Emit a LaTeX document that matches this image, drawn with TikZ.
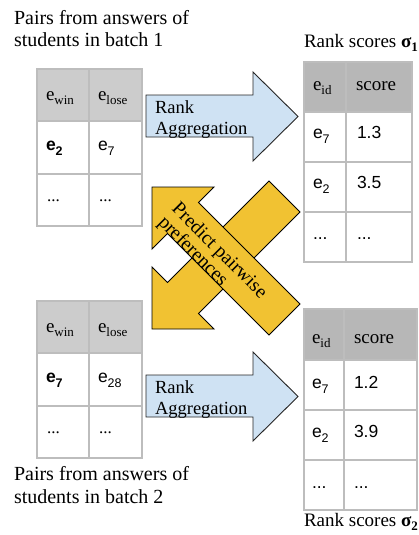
\documentclass[tikz,border=0pt]{standalone}
\usepackage{fontspec}
\setmainfont{Liberation Serif}
\setsansfont{Liberation Sans}
\definecolor{hdrL}{HTML}{CCCCCC}
\definecolor{hdrR}{HTML}{B7B7B7}
\definecolor{gridc}{HTML}{BDBDBD}
\definecolor{blueF}{HTML}{CFE2F3}
\definecolor{yellowF}{HTML}{F1C232}
\newcommand\mysub[1]{\raisebox{-4pt}{\fontsize{13}{13}\selectfont #1}}
\newcommand\sfsub[1]{\raisebox{-5pt}{\fontsize{12.5}{13}\selectfont #1}}
\tikzset{
  lbl/.style={anchor=base west, inner sep=0pt, outer sep=0pt},
  titletxt/.style={lbl, font=\fontsize{20}{23}\selectfont},
  ranktxt/.style={lbl, font=\fontsize{19}{22}\selectfont},
  hdrtxt/.style={lbl, font=\fontsize{19}{22}\selectfont},
  celltxt/.style={lbl, font=\sffamily\fontsize{17.5}{20}\selectfont},
  dotstxt/.style={lbl, font=\fontsize{17}{20}\selectfont},
  arrtxt/.style={lbl, font=\fontsize{18.5}{21}\selectfont},
  predtxt/.style={lbl, font=\fontsize{19.5}{19.1}\selectfont, rotate=-45, align=left},
  gridline/.style={draw=gridc, line width=1.3pt},
  bluearrow/.style={fill=blueF, draw=black!85, line width=0.9pt, line join=miter},
  yellowarrow/.style={fill=yellowF, draw=black, line width=0.9pt, line join=miter}
}
\begin{document}
\begin{tikzpicture}[x=1pt,y=-1pt]
\useasboundingbox (0,0) rectangle (418,535);

% ---------- titles ----------
\node[titletxt] (t1a) at (14,25) {Pairs from answers of};
\node[titletxt] (t1b) at (14,47) {students in batch 1};
\node[titletxt] (t2a) at (14,480) {Pairs from answers of};
\node[titletxt] (t2b) at (14,503) {students in batch 2};
\node[ranktxt] (r1) at (304,48) {Rank scores \textbf{σ}\raisebox{-4pt}{\fontsize{13}{13}\selectfont\bfseries 1}};
\node[ranktxt] (r2) at (304,526) {Rank scores \textbf{σ}\raisebox{-4pt}{\fontsize{13}{13}\selectfont\bfseries 2}};

% ---------- table 1 ----------
\fill[hdrL] (37,69) rectangle (142,121);
\draw[gridline] (37,69) rectangle (142,226);
\draw[gridline] (89,69) -- (89,226);
\draw[gridline] (37,121) -- (142,121);
\draw[gridline] (37,174) -- (142,174);
\node[hdrtxt] (a11) at (46,100) {e\mysub{win}};
\node[hdrtxt] (a12) at (98,100) {e\mysub{lose}};
\node[celltxt] (a21) at (46,150) {\bfseries e\sfsub{\bfseries 2}};
\node[celltxt] (a22) at (98,150) {e\sfsub{7}};
\node[dotstxt] (a31) at (47,201) {...};
\node[dotstxt] (a32) at (99,201) {...};

% ---------- table 2 ----------
\fill[hdrL] (37,301) rectangle (142,353);
\draw[gridline] (37,301) rectangle (142,458);
\draw[gridline] (89,301) -- (89,458);
\draw[gridline] (37,353) -- (142,353);
\draw[gridline] (37,406) -- (142,406);
\node[hdrtxt] (b11) at (46,332) {e\mysub{win}};
\node[hdrtxt] (b12) at (98,332) {e\mysub{lose}};
\node[celltxt] (b21) at (46,382) {\bfseries e\sfsub{\bfseries 7}};
\node[celltxt] (b22) at (98,382) {e\sfsub{28}};
\node[dotstxt] (b31) at (47,433) {...};
\node[dotstxt] (b32) at (99,433) {...};

% ---------- table 3 ----------
\fill[hdrR] (304,62) rectangle (412,112);
\draw[gridline] (304,62) rectangle (412,262);
\draw[gridline] (346,62) -- (346,262);
\draw[gridline] (304,112) -- (412,112);
\draw[gridline] (304,162) -- (412,162);
\draw[gridline] (304,212) -- (412,212);
\node[hdrtxt] (c11) at (313,90) {e\mysub{id}};
\node[hdrtxt] (c12) at (356,90) {score};
\node[celltxt] (c21) at (313,138) {e\sfsub{7}};
\node[celltxt] (c22) at (357,138) {1.3};
\node[celltxt] (c31) at (313,188) {e\sfsub{2}};
\node[celltxt] (c32) at (357,188) {3.5};
\node[celltxt] (c41) at (313,239) {...};
\node[celltxt] (c42) at (357,239) {...};

% ---------- table 4 ----------
\fill[hdrR] (304,309) rectangle (417,360);
\draw[gridline] (304,309) rectangle (417,510);
\draw[gridline] (344,309) -- (344,510);
\draw[gridline] (304,360) -- (417,360);
\draw[gridline] (304,410) -- (417,410);
\draw[gridline] (304,460) -- (417,460);
\node[hdrtxt] (d11) at (312,343) {e\mysub{id}};
\node[hdrtxt] (d12) at (354,343) {score};
\node[celltxt] (d21) at (312,388) {e\sfsub{7}};
\node[celltxt] (d22) at (354,388) {1.2};
\node[celltxt] (d31) at (312,437) {e\sfsub{2}};
\node[celltxt] (d32) at (354,437) {3.9};
\node[celltxt] (d41) at (312,488) {...};
\node[celltxt] (d42) at (354,488) {...};

% ---------- blue arrows ----------
\draw[bluearrow] (146,95) -- (253,95) -- (253,72) -- (298,116.5) -- (253,161) -- (253,137) -- (146,137) -- cycle;
\node[arrtxt] (ra1) at (155,113) {Rank};
\node[arrtxt] (ra2) at (155,134.5) {Aggregation};
\draw[bluearrow] (146,375) -- (253,375) -- (253,352) -- (298,396.5) -- (253,441) -- (253,417) -- (146,417) -- cycle;
\node[arrtxt] (rb1) at (155,393) {Rank};
\node[arrtxt] (rb2) at (155,414.5) {Aggregation};

% ---------- yellow arrows ----------
\draw[yellowarrow] (152,329) -- (214,329) -- (198.5,313.5) -- (300,212) -- (269,181) -- (167.5,282.5) -- (152,267) -- cycle;
\draw[yellowarrow] (152,187) -- (214,187) -- (198.5,202.5) -- (300,304) -- (269,335) -- (167.5,233.5) -- (152,249) -- cycle;
\node[predtxt] (p1) at (157.5,223.5) {Predict pairwise\\preferences};
\end{tikzpicture}
\end{document}
